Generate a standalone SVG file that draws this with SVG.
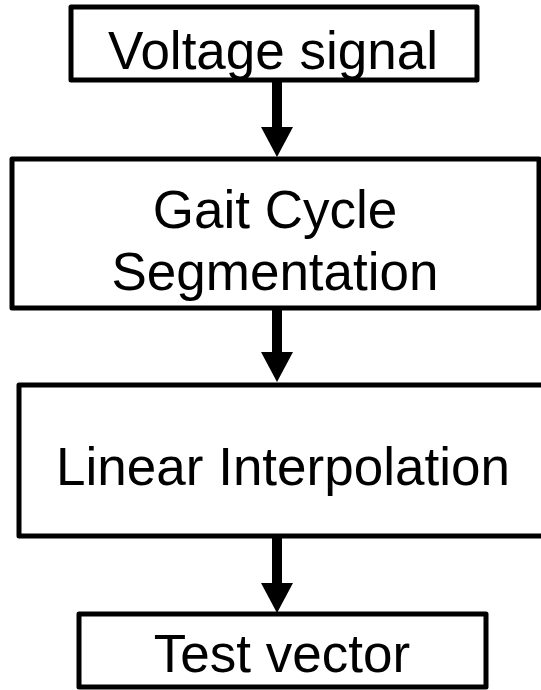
<svg xmlns="http://www.w3.org/2000/svg" width="541" height="690" viewBox="0 0 541 690">
<style>
.box{fill:#fff;stroke:#000;stroke-width:5;stroke-linejoin:round}
.lbl{font-family:"Liberation Sans",Arial,sans-serif;font-size:53px;fill:#000;text-anchor:middle}
.conn{stroke:#000;stroke-width:10;fill:none}
</style>
<defs>
<marker id="ah" markerUnits="userSpaceOnUse" markerWidth="30" markerHeight="32" refX="0" refY="16" orient="auto" viewBox="0 0 30 32">
<path d="M0,0 L30,16 L0,32 z" fill="#000"/>
</marker>
</defs>
<rect width="541" height="690" fill="#fff"/>
<g id="connectors">
<line class="conn" x1="277" y1="82" x2="277" y2="127" marker-end="url(#ah)"/>
<line class="conn" x1="277" y1="308" x2="277" y2="352" marker-end="url(#ah)"/>
<line class="conn" x1="277" y1="536" x2="277" y2="583" marker-end="url(#ah)"/>
</g>
<g id="voltage">
<rect class="box" x="71" y="7" width="406" height="73"/>
<text class="lbl" x="273" y="69">Voltage signal</text>
</g>
<g id="segmentation">
<rect class="box" x="12" y="159" width="527" height="149"/>
<text class="lbl" x="275" y="228">Gait Cycle</text>
<text class="lbl" x="275" y="290">Segmentation</text>
</g>
<g id="interpolation">
<rect class="box" x="19" y="385" width="530" height="151"/>
<text class="lbl" x="283" y="485">Linear Interpolation</text>
</g>
<g id="testvector">
<rect class="box" x="79" y="614" width="407" height="73"/>
<text class="lbl" x="282" y="672">Test vector</text>
</g>
</svg>
